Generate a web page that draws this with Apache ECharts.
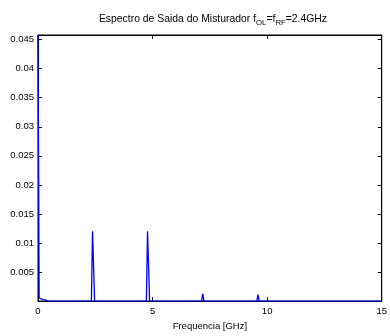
<!DOCTYPE html>
<html>
<head>
<meta charset="utf-8">
<script src="https://cdn.jsdelivr.net/npm/echarts@6/dist/echarts.min.js"></script>
<style>
  html, body { margin: 0; padding: 0; background: #fff; }
  #chart { width: 390px; height: 336px; }
</style>
</head>
<body>
<div id="chart"></div>
<script>
// frequencia [GHz] e amplitude do espectro
const freq = [0, 0.05, 0.1, 0.2, 0.3, 0.45, 2.33, 2.38, 2.42, 2.47, 4.73, 4.78, 4.82, 4.87, 7.14, 7.19, 7.24, 9.55, 9.6, 9.65, 15]
const amp = [0.0458, 0.0005, 0.0004, 0.0003, 0.0002, 0, 0, 0.012, 0.012, 0, 0, 0.012, 0.012, 0, 0, 0.0013, 0, 0, 0.0011, 0, 0]
const xTicks = [0, 5, 10, 15]
const yTicks = [0.005, 0.01, 0.015, 0.02, 0.025, 0.03, 0.035, 0.04, 0.045]

const font = 'Liberation Sans'
const yMax = 0.0458

var chart = echarts.init(document.getElementById('chart'))

function axisLineStyle () {
  return { show: true, onZero: false, lineStyle: { color: '#000', width: 1 } }
}
function axisTickStyle () {
  return { show: true, inside: true, length: 4, lineStyle: { color: '#000' } }
}

chart.setOption({
  animation: false,
  backgroundColor: '#fff',
  title: {
    text: '{a|Espectro de Saida do Misturador f}{s|OL}{a|=f}{s|RF}{a|=2.4GHz}',
    left: 208,
    textAlign: 'center',
    top: 6,
    textStyle: {
      fontWeight: 'normal',
      rich: {
        a: { fontFamily: font, fontSize: 10.4, fontWeight: 'normal', color: '#000' },
        s: { fontFamily: font, fontSize: 7.8, fontWeight: 'normal', color: '#000', padding: [8, 0, 0, 0] }
      }
    }
  },
  grid: {
    left: 38, right: 4, top: 35, bottom: 27,
    show: true, borderColor: '#000', borderWidth: 1, backgroundColor: 'transparent'
  },
  xAxis: [
    {
      type: 'value',
      min: 0,
      max: 15,
      interval: 5,
      position: 'bottom',
      name: 'Frequencia [GHz]',
      nameLocation: 'middle',
      nameGap: 16,
      nameTextStyle: { fontFamily: font, fontSize: 9.5, color: '#000' },
      axisLine: axisLineStyle(),
      axisTick: axisTickStyle(),
      splitLine: { show: false },
      axisLabel: {
        fontFamily: font, fontSize: 9.5, color: '#000', margin: 5,
        formatter: function (v) { return xTicks.indexOf(v) >= 0 ? String(v) : '' }
      }
    },
    {
      type: 'value', min: 0, max: 15, interval: 5, position: 'top',
      axisLine: axisLineStyle(),
      axisTick: axisTickStyle(),
      splitLine: { show: false },
      axisLabel: { show: false }
    }
  ],
  yAxis: [
    {
      type: 'value',
      min: 0,
      max: yMax,
      interval: 0.005,
      position: 'left',
      axisLine: axisLineStyle(),
      axisTick: axisTickStyle(),
      splitLine: { show: false },
      axisLabel: {
        fontFamily: font, fontSize: 9.5, color: '#000', margin: 4,
        formatter: function (v) {
          var r = Math.round(v * 1000) / 1000
          return yTicks.indexOf(r) >= 0 && Math.abs(r - v) < 1e-9 ? String(r) : ''
        }
      }
    },
    {
      type: 'value', min: 0, max: yMax, interval: 0.005, position: 'right',
      axisLine: axisLineStyle(),
      axisTick: axisTickStyle(),
      splitLine: { show: false },
      axisLabel: { show: false }
    }
  ],
  series: [
    {
      type: 'line',
      xAxisIndex: 0,
      yAxisIndex: 0,
      showSymbol: false,
      data: freq.map((f, i) => [f, amp[i]]),
      lineStyle: { color: '#0000ff', width: 1.3 },
      itemStyle: { color: '#0000ff' }
    },
    {
      // serie vazia so para mostrar os eixos de cima e da direita
      type: 'line',
      xAxisIndex: 1,
      yAxisIndex: 1,
      showSymbol: false,
      data: [],
      silent: true
    }
  ]
})
</script>
</body>
</html>
